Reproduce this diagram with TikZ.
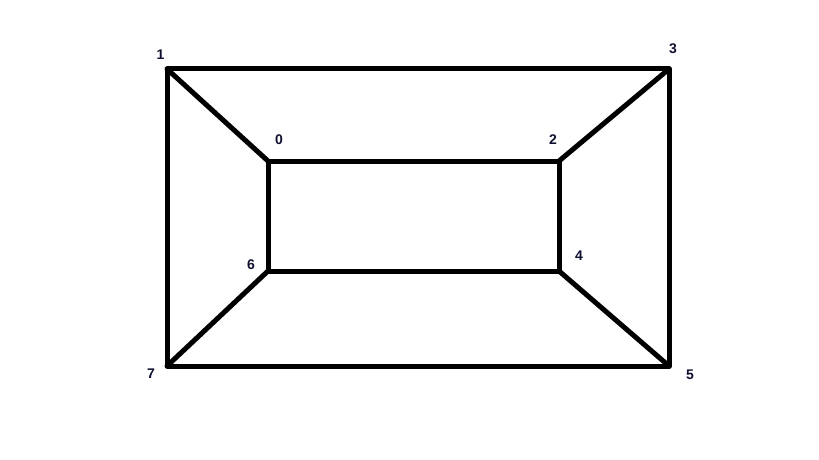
\documentclass[tikz,border=0pt]{standalone}
\usepackage{fontspec}
\setmainfont{Liberation Sans}
\definecolor{lbl}{HTML}{101030}
\begin{document}
\begin{tikzpicture}[x=1pt,y=-1pt,
  edge/.style={line width=5pt,line cap=round,line join=round},
  lab/.style={font=\bfseries\fontsize{14}{14}\selectfont,text=lbl,inner sep=0pt}]
\useasboundingbox[fill=white] (0,0) rectangle (819,460);
\coordinate (v1) at (167,69);
\coordinate (v3) at (669,69);
\coordinate (v5) at (669,366);
\coordinate (v7) at (167,366);
\coordinate (v0) at (268,161);
\coordinate (v2) at (559,161);
\coordinate (v4) at (559,271);
\coordinate (v6) at (268,271);
\draw[edge] (v1) -- (v3) -- (v5) -- (v7) -- cycle;
\draw[edge] (v0) -- (v2) -- (v4) -- (v6) -- cycle;
\draw[edge] (v1) -- (v0);
\draw[edge] (v3) -- (v2);
\draw[edge] (v5) -- (v4);
\draw[edge] (v7) -- (v6);
\node[lab] (l1) at (160.5,55) {1};
\node[lab] (l3) at (673,49) {3};
\node[lab] (l0) at (279,140) {0};
\node[lab] (l2) at (553,140) {2};
\node[lab] (l6) at (251,265) {6};
\node[lab] (l4) at (579,256) {4};
\node[lab] (l7) at (151,374) {7};
\node[lab] (l5) at (690,375) {5};
\end{tikzpicture}
\end{document}
